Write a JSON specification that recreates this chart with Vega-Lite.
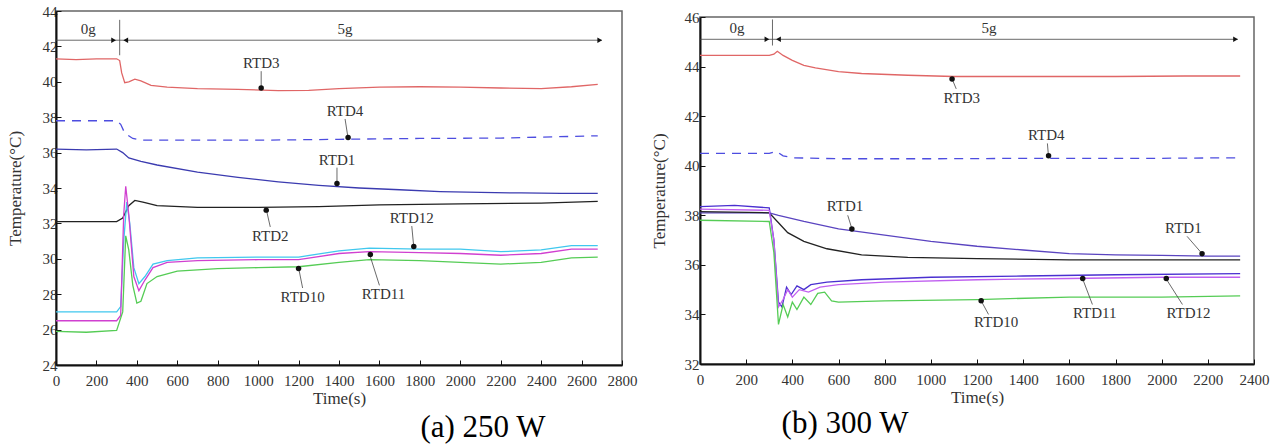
{
 "$schema": "https://vega.github.io/schema/vega-lite/v6.json",
 "padding": {"left": 5, "top": 3, "right": 5, "bottom": 2},
 "background": "white",
 "config": {
  "font": "Liberation Serif, Times New Roman, serif",
  "view": {"stroke": "#666", "strokeWidth": 1.5},
  "text": {"font": "Liberation Serif, Times New Roman, serif"},
  "axis": {"grid": false, "domainColor": "#111", "domainWidth": 2, "tickColor": "#111", "tickSize": -5, "labelFont": "Liberation Serif, Times New Roman, serif", "labelFontSize": 15, "labelColor": "#333", "labelPadding": 4, "labelOverlap": false, "labelFlush": false, "labelSeparation": 0, "format": "d", "titleFont": "Liberation Serif, Times New Roman, serif", "titleFontSize": 17, "titleFontWeight": "normal", "titleColor": "#333"},
  "title": {"font": "Liberation Serif, Times New Roman, serif", "fontSize": 31, "fontWeight": "normal", "color": "#000"}
 },
 "datasets": {
  "curves": [
   {"panel":"a","series":"RTD3","t":0,"T":41.3},{"panel":"a","series":"RTD3","t":100,"T":41.25},{"panel":"a","series":"RTD3","t":200,"T":41.3},{"panel":"a","series":"RTD3","t":300,"T":41.3},{"panel":"a","series":"RTD3","t":315,"T":41.2},{"panel":"a","series":"RTD3","t":325,"T":40.5},{"panel":"a","series":"RTD3","t":340,"T":39.95},{"panel":"a","series":"RTD3","t":360,"T":40.0},{"panel":"a","series":"RTD3","t":390,"T":40.15},{"panel":"a","series":"RTD3","t":420,"T":40.05},{"panel":"a","series":"RTD3","t":470,"T":39.8},{"panel":"a","series":"RTD3","t":550,"T":39.7},{"panel":"a","series":"RTD3","t":700,"T":39.62},{"panel":"a","series":"RTD3","t":900,"T":39.57},{"panel":"a","series":"RTD3","t":1100,"T":39.5},{"panel":"a","series":"RTD3","t":1250,"T":39.52},{"panel":"a","series":"RTD3","t":1400,"T":39.62},{"panel":"a","series":"RTD3","t":1600,"T":39.7},{"panel":"a","series":"RTD3","t":1800,"T":39.72},{"panel":"a","series":"RTD3","t":2000,"T":39.7},{"panel":"a","series":"RTD3","t":2200,"T":39.65},{"panel":"a","series":"RTD3","t":2400,"T":39.62},{"panel":"a","series":"RTD3","t":2550,"T":39.72},{"panel":"a","series":"RTD3","t":2680,"T":39.85},
   {"panel":"a","series":"RTD4","t":0,"T":37.8},{"panel":"a","series":"RTD4","t":300,"T":37.8},{"panel":"a","series":"RTD4","t":320,"T":37.6},{"panel":"a","series":"RTD4","t":340,"T":37.1},{"panel":"a","series":"RTD4","t":380,"T":36.8},{"panel":"a","series":"RTD4","t":420,"T":36.7},{"panel":"a","series":"RTD4","t":600,"T":36.7},{"panel":"a","series":"RTD4","t":1000,"T":36.7},{"panel":"a","series":"RTD4","t":1400,"T":36.75},{"panel":"a","series":"RTD4","t":1800,"T":36.8},{"panel":"a","series":"RTD4","t":2200,"T":36.82},{"panel":"a","series":"RTD4","t":2680,"T":36.95},
   {"panel":"a","series":"RTD1","t":0,"T":36.2},{"panel":"a","series":"RTD1","t":150,"T":36.15},{"panel":"a","series":"RTD1","t":300,"T":36.2},{"panel":"a","series":"RTD1","t":330,"T":36.0},{"panel":"a","series":"RTD1","t":360,"T":35.7},{"panel":"a","series":"RTD1","t":420,"T":35.5},{"panel":"a","series":"RTD1","t":500,"T":35.3},{"panel":"a","series":"RTD1","t":700,"T":34.9},{"panel":"a","series":"RTD1","t":900,"T":34.6},{"panel":"a","series":"RTD1","t":1100,"T":34.35},{"panel":"a","series":"RTD1","t":1300,"T":34.15},{"panel":"a","series":"RTD1","t":1500,"T":34.0},{"panel":"a","series":"RTD1","t":1700,"T":33.9},{"panel":"a","series":"RTD1","t":1900,"T":33.8},{"panel":"a","series":"RTD1","t":2100,"T":33.75},{"panel":"a","series":"RTD1","t":2300,"T":33.72},{"panel":"a","series":"RTD1","t":2500,"T":33.7},{"panel":"a","series":"RTD1","t":2680,"T":33.7},
   {"panel":"a","series":"RTD2","t":0,"T":32.1},{"panel":"a","series":"RTD2","t":300,"T":32.1},{"panel":"a","series":"RTD2","t":330,"T":32.3},{"panel":"a","series":"RTD2","t":360,"T":33.0},{"panel":"a","series":"RTD2","t":390,"T":33.3},{"panel":"a","series":"RTD2","t":430,"T":33.2},{"panel":"a","series":"RTD2","t":500,"T":33.0},{"panel":"a","series":"RTD2","t":700,"T":32.9},{"panel":"a","series":"RTD2","t":1000,"T":32.9},{"panel":"a","series":"RTD2","t":1300,"T":32.95},{"panel":"a","series":"RTD2","t":1600,"T":33.05},{"panel":"a","series":"RTD2","t":2000,"T":33.1},{"panel":"a","series":"RTD2","t":2400,"T":33.15},{"panel":"a","series":"RTD2","t":2680,"T":33.25},
   {"panel":"a","series":"RTD12","t":0,"T":27.0},{"panel":"a","series":"RTD12","t":300,"T":27.0},{"panel":"a","series":"RTD12","t":320,"T":27.3},{"panel":"a","series":"RTD12","t":335,"T":31.0},{"panel":"a","series":"RTD12","t":350,"T":33.2},{"panel":"a","series":"RTD12","t":365,"T":32.0},{"panel":"a","series":"RTD12","t":385,"T":29.5},{"panel":"a","series":"RTD12","t":410,"T":28.6},{"panel":"a","series":"RTD12","t":440,"T":29.0},{"panel":"a","series":"RTD12","t":480,"T":29.7},{"panel":"a","series":"RTD12","t":550,"T":29.9},{"panel":"a","series":"RTD12","t":700,"T":30.05},{"panel":"a","series":"RTD12","t":1000,"T":30.1},{"panel":"a","series":"RTD12","t":1200,"T":30.1},{"panel":"a","series":"RTD12","t":1400,"T":30.45},{"panel":"a","series":"RTD12","t":1550,"T":30.6},{"panel":"a","series":"RTD12","t":1800,"T":30.55},{"panel":"a","series":"RTD12","t":2000,"T":30.55},{"panel":"a","series":"RTD12","t":2200,"T":30.4},{"panel":"a","series":"RTD12","t":2400,"T":30.5},{"panel":"a","series":"RTD12","t":2550,"T":30.75},{"panel":"a","series":"RTD12","t":2680,"T":30.75},
   {"panel":"a","series":"RTD11","t":0,"T":26.5},{"panel":"a","series":"RTD11","t":300,"T":26.5},{"panel":"a","series":"RTD11","t":320,"T":26.8},{"panel":"a","series":"RTD11","t":335,"T":32.5},{"panel":"a","series":"RTD11","t":345,"T":34.1},{"panel":"a","series":"RTD11","t":360,"T":32.5},{"panel":"a","series":"RTD11","t":385,"T":29.0},{"panel":"a","series":"RTD11","t":410,"T":28.2},{"panel":"a","series":"RTD11","t":440,"T":28.8},{"panel":"a","series":"RTD11","t":480,"T":29.5},{"panel":"a","series":"RTD11","t":550,"T":29.8},{"panel":"a","series":"RTD11","t":700,"T":29.9},{"panel":"a","series":"RTD11","t":1000,"T":29.95},{"panel":"a","series":"RTD11","t":1200,"T":29.95},{"panel":"a","series":"RTD11","t":1400,"T":30.3},{"panel":"a","series":"RTD11","t":1550,"T":30.4},{"panel":"a","series":"RTD11","t":1800,"T":30.35},{"panel":"a","series":"RTD11","t":2000,"T":30.3},{"panel":"a","series":"RTD11","t":2200,"T":30.2},{"panel":"a","series":"RTD11","t":2400,"T":30.3},{"panel":"a","series":"RTD11","t":2550,"T":30.55},{"panel":"a","series":"RTD11","t":2680,"T":30.55},
   {"panel":"a","series":"RTD10","t":0,"T":25.9},{"panel":"a","series":"RTD10","t":150,"T":25.85},{"panel":"a","series":"RTD10","t":300,"T":25.95},{"panel":"a","series":"RTD10","t":330,"T":27.0},{"panel":"a","series":"RTD10","t":345,"T":31.3},{"panel":"a","series":"RTD10","t":360,"T":30.5},{"panel":"a","series":"RTD10","t":380,"T":28.5},{"panel":"a","series":"RTD10","t":400,"T":27.5},{"panel":"a","series":"RTD10","t":420,"T":27.6},{"panel":"a","series":"RTD10","t":450,"T":28.6},{"panel":"a","series":"RTD10","t":500,"T":29.0},{"panel":"a","series":"RTD10","t":600,"T":29.3},{"panel":"a","series":"RTD10","t":800,"T":29.45},{"panel":"a","series":"RTD10","t":1000,"T":29.5},{"panel":"a","series":"RTD10","t":1200,"T":29.55},{"panel":"a","series":"RTD10","t":1400,"T":29.8},{"panel":"a","series":"RTD10","t":1550,"T":29.95},{"panel":"a","series":"RTD10","t":1800,"T":29.9},{"panel":"a","series":"RTD10","t":2000,"T":29.8},{"panel":"a","series":"RTD10","t":2200,"T":29.7},{"panel":"a","series":"RTD10","t":2400,"T":29.8},{"panel":"a","series":"RTD10","t":2550,"T":30.05},{"panel":"a","series":"RTD10","t":2680,"T":30.1},
   {"panel":"b","series":"RTD3","t":0,"T":44.45},{"panel":"b","series":"RTD3","t":300,"T":44.45},{"panel":"b","series":"RTD3","t":320,"T":44.5},{"panel":"b","series":"RTD3","t":335,"T":44.62},{"panel":"b","series":"RTD3","t":360,"T":44.45},{"panel":"b","series":"RTD3","t":400,"T":44.25},{"panel":"b","series":"RTD3","t":450,"T":44.05},{"panel":"b","series":"RTD3","t":500,"T":43.95},{"panel":"b","series":"RTD3","t":600,"T":43.8},{"panel":"b","series":"RTD3","t":700,"T":43.72},{"panel":"b","series":"RTD3","t":900,"T":43.65},{"panel":"b","series":"RTD3","t":1100,"T":43.6},{"panel":"b","series":"RTD3","t":1400,"T":43.6},{"panel":"b","series":"RTD3","t":1800,"T":43.6},{"panel":"b","series":"RTD3","t":2100,"T":43.62},{"panel":"b","series":"RTD3","t":2340,"T":43.62},
   {"panel":"b","series":"RTD4","t":0,"T":40.5},{"panel":"b","series":"RTD4","t":300,"T":40.5},{"panel":"b","series":"RTD4","t":330,"T":40.58},{"panel":"b","series":"RTD4","t":360,"T":40.4},{"panel":"b","series":"RTD4","t":400,"T":40.32},{"panel":"b","series":"RTD4","t":600,"T":40.28},{"panel":"b","series":"RTD4","t":1000,"T":40.28},{"panel":"b","series":"RTD4","t":1500,"T":40.3},{"panel":"b","series":"RTD4","t":2000,"T":40.3},{"panel":"b","series":"RTD4","t":2340,"T":40.32},
   {"panel":"b","series":"RTD1","t":0,"T":38.1},{"panel":"b","series":"RTD1","t":300,"T":38.1},{"panel":"b","series":"RTD1","t":340,"T":38.0},{"panel":"b","series":"RTD1","t":450,"T":37.75},{"panel":"b","series":"RTD1","t":600,"T":37.45},{"panel":"b","series":"RTD1","t":800,"T":37.2},{"panel":"b","series":"RTD1","t":1000,"T":36.95},{"panel":"b","series":"RTD1","t":1200,"T":36.75},{"panel":"b","series":"RTD1","t":1400,"T":36.6},{"panel":"b","series":"RTD1","t":1600,"T":36.45},{"panel":"b","series":"RTD1","t":1800,"T":36.4},{"panel":"b","series":"RTD1","t":2000,"T":36.38},{"panel":"b","series":"RTD1","t":2200,"T":36.35},{"panel":"b","series":"RTD1","t":2340,"T":36.35},
   {"panel":"b","series":"RTD2","t":0,"T":38.15},{"panel":"b","series":"RTD2","t":300,"T":38.1},{"panel":"b","series":"RTD2","t":340,"T":37.7},{"panel":"b","series":"RTD2","t":380,"T":37.3},{"panel":"b","series":"RTD2","t":450,"T":36.95},{"panel":"b","series":"RTD2","t":550,"T":36.65},{"panel":"b","series":"RTD2","t":700,"T":36.4},{"panel":"b","series":"RTD2","t":900,"T":36.3},{"panel":"b","series":"RTD2","t":1200,"T":36.25},{"panel":"b","series":"RTD2","t":1600,"T":36.2},{"panel":"b","series":"RTD2","t":2000,"T":36.2},{"panel":"b","series":"RTD2","t":2340,"T":36.2},
   {"panel":"b","series":"RTD11","t":0,"T":38.35},{"panel":"b","series":"RTD11","t":150,"T":38.4},{"panel":"b","series":"RTD11","t":300,"T":38.3},{"panel":"b","series":"RTD11","t":320,"T":37.0},{"panel":"b","series":"RTD11","t":340,"T":34.5},{"panel":"b","series":"RTD11","t":355,"T":34.3},{"panel":"b","series":"RTD11","t":375,"T":35.1},{"panel":"b","series":"RTD11","t":395,"T":34.8},{"panel":"b","series":"RTD11","t":420,"T":35.15},{"panel":"b","series":"RTD11","t":450,"T":35.0},{"panel":"b","series":"RTD11","t":480,"T":35.2},{"panel":"b","series":"RTD11","t":550,"T":35.3},{"panel":"b","series":"RTD11","t":700,"T":35.4},{"panel":"b","series":"RTD11","t":1000,"T":35.5},{"panel":"b","series":"RTD11","t":1400,"T":35.55},{"panel":"b","series":"RTD11","t":1800,"T":35.6},{"panel":"b","series":"RTD11","t":2340,"T":35.65},
   {"panel":"b","series":"RTD12","t":0,"T":38.25},{"panel":"b","series":"RTD12","t":300,"T":38.2},{"panel":"b","series":"RTD12","t":320,"T":37.0},{"panel":"b","series":"RTD12","t":340,"T":34.3},{"panel":"b","series":"RTD12","t":360,"T":34.6},{"panel":"b","series":"RTD12","t":380,"T":35.0},{"panel":"b","series":"RTD12","t":400,"T":34.7},{"panel":"b","series":"RTD12","t":430,"T":35.0},{"panel":"b","series":"RTD12","t":470,"T":34.9},{"panel":"b","series":"RTD12","t":520,"T":35.1},{"panel":"b","series":"RTD12","t":600,"T":35.2},{"panel":"b","series":"RTD12","t":800,"T":35.3},{"panel":"b","series":"RTD12","t":1200,"T":35.4},{"panel":"b","series":"RTD12","t":1600,"T":35.45},{"panel":"b","series":"RTD12","t":2000,"T":35.5},{"panel":"b","series":"RTD12","t":2340,"T":35.5},
   {"panel":"b","series":"RTD10","t":0,"T":37.8},{"panel":"b","series":"RTD10","t":300,"T":37.75},{"panel":"b","series":"RTD10","t":320,"T":36.5},{"panel":"b","series":"RTD10","t":340,"T":33.6},{"panel":"b","series":"RTD10","t":360,"T":34.4},{"panel":"b","series":"RTD10","t":380,"T":33.9},{"panel":"b","series":"RTD10","t":400,"T":34.5},{"panel":"b","series":"RTD10","t":420,"T":34.2},{"panel":"b","series":"RTD10","t":450,"T":34.7},{"panel":"b","series":"RTD10","t":480,"T":34.4},{"panel":"b","series":"RTD10","t":510,"T":34.85},{"panel":"b","series":"RTD10","t":540,"T":34.9},{"panel":"b","series":"RTD10","t":570,"T":34.55},{"panel":"b","series":"RTD10","t":600,"T":34.5},{"panel":"b","series":"RTD10","t":800,"T":34.55},{"panel":"b","series":"RTD10","t":1200,"T":34.6},{"panel":"b","series":"RTD10","t":1600,"T":34.7},{"panel":"b","series":"RTD10","t":2000,"T":34.7},{"panel":"b","series":"RTD10","t":2340,"T":34.75}
  ],
  "labels": [
   {"panel":"a","label":"RTD3","x":1015,"y":41.05},{"panel":"a","label":"RTD4","x":1430,"y":38.35},{"panel":"a","label":"RTD1","x":1390,"y":35.6},{"panel":"a","label":"RTD2","x":1060,"y":31.3},{"panel":"a","label":"RTD12","x":1760,"y":32.3},{"panel":"a","label":"RTD10","x":1220,"y":27.85},{"panel":"a","label":"RTD11","x":1620,"y":28.0},{"panel":"a","label":"0g","x":160,"y":43.0},{"panel":"a","label":"5g","x":1430,"y":43.0},
   {"panel":"b","label":"RTD3","x":1134,"y":42.75},{"panel":"b","label":"RTD4","x":1500,"y":41.25},{"panel":"b","label":"RTD1","x":628,"y":38.37},{"panel":"b","label":"RTD1","x":2094,"y":37.5},{"panel":"b","label":"RTD10","x":1283,"y":33.7},{"panel":"b","label":"RTD11","x":1710,"y":34.06},{"panel":"b","label":"RTD12","x":2116,"y":34.06},{"panel":"b","label":"0g","x":160,"y":45.55},{"panel":"b","label":"5g","x":1252,"y":45.55}
  ],
  "rules": [
   {"panel":"a","x1":1015,"y1":40.6,"x2":1015,"y2":39.6},{"panel":"a","x1":1430,"y1":37.9,"x2":1445,"y2":36.8},{"panel":"a","x1":1390,"y1":35.15,"x2":1390,"y2":34.2},{"panel":"a","x1":1060,"y1":31.8,"x2":1040,"y2":32.8},{"panel":"a","x1":1760,"y1":31.85,"x2":1770,"y2":30.65},{"panel":"a","x1":1220,"y1":28.35,"x2":1200,"y2":29.5},{"panel":"a","x1":1600,"y1":28.5,"x2":1550,"y2":30.3},
   {"panel":"a","x1":0,"y1":42.35,"x2":2700,"y2":42.35},{"panel":"a","x1":315,"y1":43.5,"x2":315,"y2":41.5},
   {"panel":"b","x1":1110,"y1":43.1,"x2":1090,"y2":43.55},{"panel":"b","x1":1505,"y1":40.9,"x2":1510,"y2":40.35},{"panel":"b","x1":640,"y1":38.0,"x2":660,"y2":37.4},{"panel":"b","x1":2110,"y1":37.15,"x2":2180,"y2":36.4},{"panel":"b","x1":1250,"y1":34.0,"x2":1215,"y2":34.6},{"panel":"b","x1":1700,"y1":34.4,"x2":1655,"y2":35.5},{"panel":"b","x1":2090,"y1":34.4,"x2":2015,"y2":35.5},
   {"panel":"b","x1":0,"y1":45.1,"x2":2330,"y2":45.1},{"panel":"b","x1":314,"y1":45.9,"x2":314,"y2":44.85}
  ],
  "heads": [
   {"panel":"a","dir":"right","x":2690,"y":42.35},{"panel":"a","dir":"right","x":285,"y":42.35},{"panel":"a","dir":"left","x":345,"y":42.35},
   {"panel":"a","dir":"dot","x":1015,"y":39.65},{"panel":"a","dir":"dot","x":1445,"y":36.85},{"panel":"a","dir":"dot","x":1390,"y":34.25},{"panel":"a","dir":"dot","x":1040,"y":32.75},{"panel":"a","dir":"dot","x":1770,"y":30.7},{"panel":"a","dir":"dot","x":1200,"y":29.45},{"panel":"a","dir":"dot","x":1555,"y":30.25},
   {"panel":"b","dir":"right","x":2320,"y":45.1},{"panel":"b","dir":"right","x":290,"y":45.1},{"panel":"b","dir":"left","x":340,"y":45.1},
   {"panel":"b","dir":"dot","x":1092,"y":43.5},{"panel":"b","dir":"dot","x":1510,"y":40.4},{"panel":"b","dir":"dot","x":658,"y":37.45},{"panel":"b","dir":"dot","x":2175,"y":36.45},{"panel":"b","dir":"dot","x":1218,"y":34.55},{"panel":"b","dir":"dot","x":1658,"y":35.45},{"panel":"b","dir":"dot","x":2020,"y":35.45}
  ]
 },
 "hconcat": [
  {
   "width": 566, "height": 354,
   "title": {"text": "(a) 250 W", "orient": "bottom", "anchor": "middle", "dx": 144, "offset": 7},
   "layer": [
    {"data": {"name": "curves"}, "transform": [{"filter": "datum.panel == 'a' && datum.series != 'RTD4'"}],
     "mark": {"type": "line", "strokeWidth": 1.3},
     "encoding": {
      "x": {"field": "t", "type": "quantitative", "scale": {"domain": [0, 2800], "nice": false}, "axis": {"title": "Time(s)", "values": [0,200,400,600,800,1000,1200,1400,1600,1800,2000,2200,2400,2600,2800], "labelPadding": 13, "titlePadding": 2}},
      "y": {"field": "T", "type": "quantitative", "scale": {"domain": [24, 44], "nice": false, "zero": false}, "axis": {"title": "Temperature(°C)", "values": [24,26,28,30,32,34,36,38,40,42,44], "tickCount": 11, "labelOverlap": false, "labelSeparation": 0, "titlePadding": 18}},
      "color": {"field": "series", "type": "nominal", "scale": {"domain": ["RTD3","RTD4","RTD1","RTD2","RTD10","RTD11","RTD12"], "range": ["#e06666","#4d4de0","#3b3bb0","#222222","#55cc55","#d040d0","#40c8ee"]}, "legend": null}
     }},
    {"data": {"name": "curves"}, "transform": [{"filter": "datum.panel == 'a' && datum.series == 'RTD4'"}],
     "mark": {"type": "line", "strokeWidth": 1.3, "strokeDash": [9, 7]},
     "encoding": {"x": {"field": "t", "type": "quantitative"}, "y": {"field": "T", "type": "quantitative"}, "color": {"field": "series", "type": "nominal", "legend": null}}},
    {"data": {"name": "rules"}, "transform": [{"filter": "datum.panel == 'a'"}],
     "mark": {"type": "rule", "color": "#444", "strokeWidth": 0.8},
     "encoding": {"x": {"field": "x1", "type": "quantitative"}, "y": {"field": "y1", "type": "quantitative"}, "x2": {"field": "x2"}, "y2": {"field": "y2"}}},
    {"data": {"name": "heads"}, "transform": [{"filter": "datum.panel == 'a'"}],
     "mark": {"type": "point", "filled": true, "color": "#111", "opacity": 1},
     "encoding": {"x": {"field": "x", "type": "quantitative"}, "y": {"field": "y", "type": "quantitative"},
      "shape": {"field": "dir", "type": "nominal", "scale": {"domain": ["right","left","dot"], "range": ["triangle-right","triangle-left","circle"]}, "legend": null},
      "size": {"field": "dir", "type": "nominal", "scale": {"domain": ["right","left","dot"], "range": [30, 30, 14]}, "legend": null}}},
    {"data": {"name": "labels"}, "transform": [{"filter": "datum.panel == 'a'"}],
     "mark": {"type": "text", "font": "Liberation Serif, Times New Roman, serif", "fontSize": 15, "color": "#333"},
     "encoding": {"x": {"field": "x", "type": "quantitative"}, "y": {"field": "y", "type": "quantitative"}, "text": {"field": "label"}}}
   ]
  },
  {
   "spacing": -8,
   "vconcat": [
    {"width": 554, "height": 1, "view": {"stroke": null}, "data": {"values": [{"s": ""}]}, "mark": {"type": "text"}, "encoding": {"text": {"field": "s"}}},
    {
     "width": 554, "height": 347,
     "title": {"text": "(b) 300 W", "orient": "bottom", "anchor": "middle", "dx": -132, "offset": 4},
     "layer": [
      {"data": {"name": "curves"}, "transform": [{"filter": "datum.panel == 'b' && datum.series != 'RTD4'"}],
       "mark": {"type": "line", "strokeWidth": 1.3},
       "encoding": {
        "x": {"field": "t", "type": "quantitative", "scale": {"domain": [0, 2400], "nice": false}, "axis": {"title": "Time(s)", "values": [0,200,400,600,800,1000,1200,1400,1600,1800,2000,2200,2400], "labelPadding": 13, "titlePadding": 2}},
        "y": {"field": "T", "type": "quantitative", "scale": {"domain": [32, 46], "nice": false, "zero": false}, "axis": {"title": "Temperature(°C)", "values": [32,34,36,38,40,42,44,46], "titlePadding": 16, "labelPadding": 6}},
        "color": {"field": "series", "type": "nominal", "scale": {"domain": ["RTD3","RTD4","RTD1","RTD2","RTD10","RTD11","RTD12"], "range": ["#e06666","#4d4de0","#5a44c0","#222222","#55cc55","#4a30d0","#c060f0"]}, "legend": null}
       }},
      {"data": {"name": "curves"}, "transform": [{"filter": "datum.panel == 'b' && datum.series == 'RTD4'"}],
       "mark": {"type": "line", "strokeWidth": 1.3, "strokeDash": [9, 7]},
       "encoding": {"x": {"field": "t", "type": "quantitative"}, "y": {"field": "T", "type": "quantitative"}, "color": {"field": "series", "type": "nominal", "legend": null}}},
      {"data": {"name": "rules"}, "transform": [{"filter": "datum.panel == 'b'"}],
       "mark": {"type": "rule", "color": "#444", "strokeWidth": 0.8},
       "encoding": {"x": {"field": "x1", "type": "quantitative"}, "y": {"field": "y1", "type": "quantitative"}, "x2": {"field": "x2"}, "y2": {"field": "y2"}}},
      {"data": {"name": "heads"}, "transform": [{"filter": "datum.panel == 'b'"}],
       "mark": {"type": "point", "filled": true, "color": "#111", "opacity": 1},
       "encoding": {"x": {"field": "x", "type": "quantitative"}, "y": {"field": "y", "type": "quantitative"},
        "shape": {"field": "dir", "type": "nominal", "scale": {"domain": ["right","left","dot"], "range": ["triangle-right","triangle-left","circle"]}, "legend": null},
        "size": {"field": "dir", "type": "nominal", "scale": {"domain": ["right","left","dot"], "range": [30, 30, 14]}, "legend": null}}},
      {"data": {"name": "labels"}, "transform": [{"filter": "datum.panel == 'b'"}],
       "mark": {"type": "text", "font": "Liberation Serif, Times New Roman, serif", "fontSize": 15, "color": "#333"},
       "encoding": {"x": {"field": "x", "type": "quantitative"}, "y": {"field": "y", "type": "quantitative"}, "text": {"field": "label"}}}
     ]
    }
   ]
  }
 ],
 "spacing": 11,
 "resolve": {"scale": {"color": "independent", "shape": "independent", "size": "independent"}}
}
